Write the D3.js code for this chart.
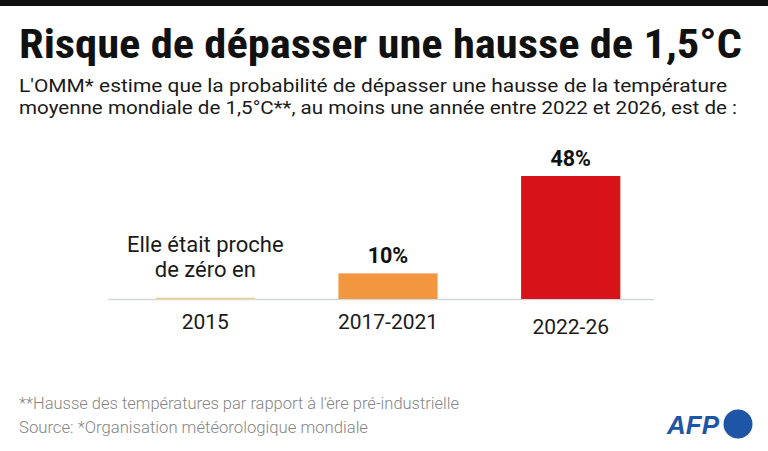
<!DOCTYPE html>
<html>
<head>
<meta charset="utf-8">
<script src="https://cdn.jsdelivr.net/npm/d3@7"></script>
<style>
  html, body { margin: 0; padding: 0; background: #fff; }
  svg { display: block; }
</style>
</head>
<body>
<svg id="chart" width="768" height="451"></svg>
<script>
// ---------- data ----------
const periods = ["2015", "2017-2021", "2022-26"];
const probabilities = [0.5, 10, 48];
const valueLabels = ["", "10%", "48%"];
const barColors = ["#f2cf7c", "#f2973f", "#d71218"];

const titleText = "Risque de dépasser une hausse de 1,5°C";
const subtitleLines = [
  "L'OMM* estime que la probabilité de dépasser une hausse de la température",
  "moyenne mondiale de 1,5°C**, au moins une année entre 2022 et 2026, est de :"
];
const noteLines = ["Elle était proche", "de zéro en"];
const footLines = [
  "**Hausse des températures par rapport à l’ère pré-industrielle",
  "Source: *Organisation météorologique mondiale"
];

// ---------- setup ----------
const W = 768, H = 451;
const svg = d3.select("#chart");
const narrow = "'Roboto Condensed', 'Liberation Sans Narrow', 'Noto Sans', sans-serif";
const body = "Roboto, 'Noto Sans', sans-serif";

// set a text to a given width (Source Sans is not installed)
function fit(sel, w) {
  sel.attr("textLength", w).attr("lengthAdjust", "spacingAndGlyphs");
}

svg.append("rect").attr("x", 0).attr("y", 0).attr("width", W).attr("height", 6).attr("fill", "#111");

svg.append("text")
  .attr("x", 19).attr("y", 58)
  .attr("font-family", narrow).attr("font-weight", 700).attr("font-size", 40)
  .attr("fill", "#111")
  .text(titleText)
  .call(fit, 723);

const subW = [708, 718];
svg.selectAll("text.sub")
  .data(subtitleLines)
  .join("text")
  .attr("class", "sub")
  .attr("x", 19).attr("y", (d, i) => 91.5 + i * 22)
  .attr("font-family", body).attr("font-size", 18.5)
  .attr("fill", "#1a1a1a")
  .text(d => d)
  .each(function(d, i) { fit(d3.select(this), subW[i]); });

// ---------- scales ----------
const x = d3.scaleBand()
  .domain(periods)
  .range([110, 666])
  .paddingInner(0.457)
  .paddingOuter(0.25);

const y = d3.scaleLinear()
  .domain([0, 48])
  .range([299, 176]);

const rows = periods.map((p, i) => ({ p, v: probabilities[i], lab: valueLabels[i], c: barColors[i] }));

// baseline
svg.append("line")
  .attr("x1", 108).attr("x2", 654)
  .attr("y1", y(0) + 0.5).attr("y2", y(0) + 0.5)
  .attr("stroke", "#d3d8dc").attr("stroke-width", 1.5);

svg.selectAll("rect.bar")
  .data(rows)
  .join("rect")
  .attr("class", "bar")
  .attr("x", d => x(d.p))
  .attr("width", x.bandwidth())
  .attr("y", d => y(d.v))
  .attr("height", d => y(0) - y(d.v))
  .attr("fill", d => d.c);

svg.selectAll("text.val")
  .data(rows.filter(d => d.lab))
  .join("text")
  .attr("class", "val")
  .attr("x", d => x(d.p) + x.bandwidth() / 2)
  .attr("y", d => y(d.v) - 10)
  .attr("text-anchor", "middle")
  .attr("font-family", body).attr("font-weight", 700).attr("font-size", 21.5)
  .attr("fill", "#111")
  .text(d => d.lab);

// category labels
const xAxis = svg.append("g")
  .attr("transform", `translate(0,${y(0)})`)
  .call(d3.axisBottom(x).tickSize(0).tickPadding(0));
xAxis.select(".domain").remove();
xAxis.selectAll("text")
  .attr("dy", null)
  .attr("y", (d, i) => i === 2 ? 35 : 30)
  .attr("font-family", body).attr("font-size", 21)
  .attr("fill", "#1a1a1a");

// annotation above 2015
svg.selectAll("text.note")
  .data(noteLines)
  .join("text")
  .attr("class", "note")
  .attr("x", x(periods[0]) + x.bandwidth() / 2)
  .attr("y", (d, i) => 252 + i * 25)
  .attr("text-anchor", "middle")
  .attr("font-family", body).attr("font-size", 22)
  .attr("fill", "#1a1a1a")
  .text(d => d);

// footnotes
const footW = [440, 349];
svg.selectAll("text.foot")
  .data(footLines)
  .join("text")
  .attr("class", "foot")
  .attr("x", 19).attr("y", (d, i) => 409 + i * 24)
  .attr("font-family", body).attr("font-weight", 300).attr("font-size", 16)
  .attr("fill", "#858585")
  .text(d => d)
  .each(function(d, i) { fit(d3.select(this), footW[i]); });

// AFP logo
const logo = svg.append("g").attr("transform", "translate(667,434)");
logo.append("text")
  .attr("x", 0).attr("y", 0)
  .attr("font-family", "'Liberation Sans', Arial, sans-serif")
  .attr("font-weight", 700).attr("font-style", "italic").attr("font-size", 25)
  .attr("fill", "#1f55a6")
  .text("AFP")
  .call(fit, 52);
logo.append("circle").attr("cx", 71).attr("cy", -10).attr("r", 14.5).attr("fill", "#1f55a6");
</script>
</body>
</html>
